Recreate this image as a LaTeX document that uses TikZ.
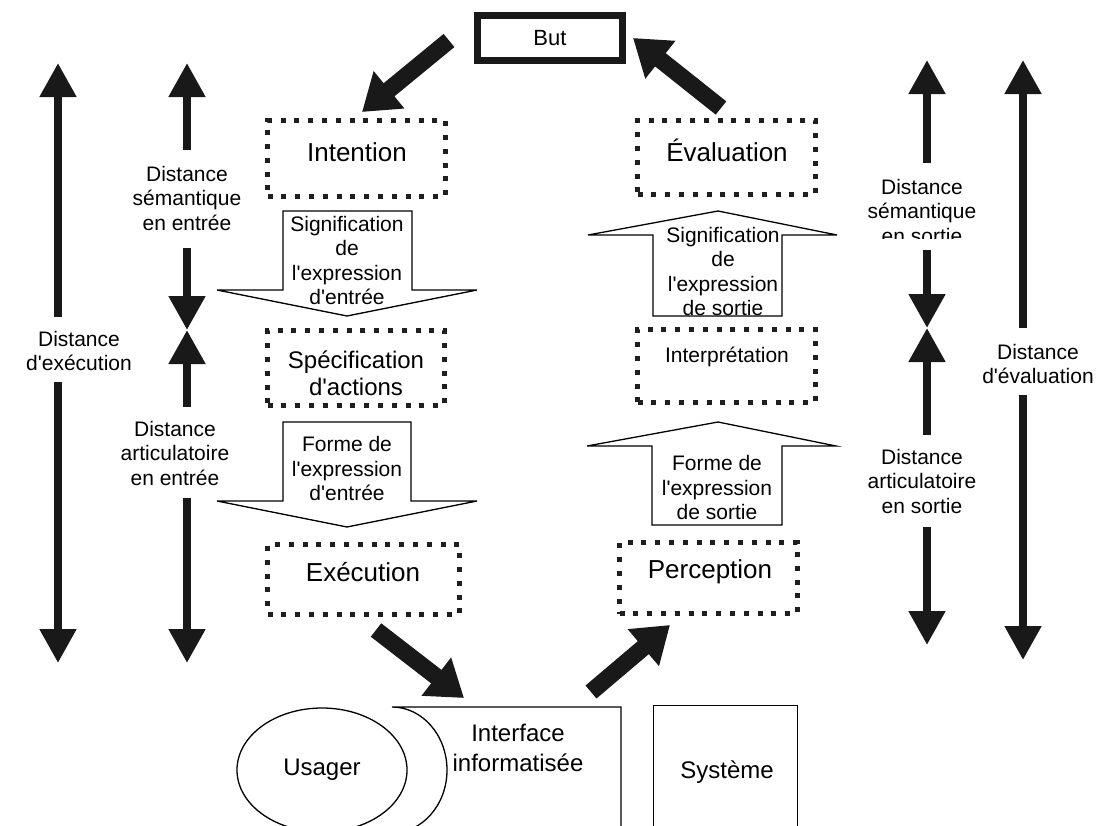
\documentclass[tikz,border=0pt]{standalone}
\usepackage{fontspec}
\setmainfont{Liberation Sans}[Ligatures=TeXOff]
\usetikzlibrary{arrows.meta,shapes.geometric}
\begin{document}
\begin{tikzpicture}[x=1pt,y=-1pt,
  dotbox/.style={draw=black!88, line width=5pt, dash pattern=on 5pt off 8.8pt, inner sep=0pt},
  bigarrow/.style={draw=black!90, line width=17pt, -{Triangle[width=46pt,length=35pt]}},
  distarrow/.style={draw=black!90, line width=8pt, -{Triangle[width=35pt,length=34pt]}},
  blockarrow/.style={draw=black, line width=1.3pt, fill=white, line join=miter},
  thinline/.style={draw=black, line width=1.3pt},
  lblbig/.style={inner sep=0pt, font=\fontsize{26}{30}\selectfont},
  lblmid/.style={inner sep=0pt, align=center, font=\fontsize{24}{27}\selectfont},
  lblsmall/.style={inner sep=0pt, align=center, font=\fontsize{21}{24.5}\selectfont}
]
\useasboundingbox (0,0) rectangle (1100,825);
\clip (0,0) rectangle (1100,825);

% ---- But
\node[draw=black!90, line width=7pt, minimum width=145pt, minimum height=45pt, inner sep=0pt,
      font=\fontsize{22}{26}\selectfont] (but) at (550,38) {But};

% ---- dotted boxes
\node[dotbox, minimum width=178pt, minimum height=76pt] (intention) at (356.5,158.5) {};
\node[lblbig] (intentionlbl) at (357,152) {Intention};
\node[dotbox, minimum width=178pt, minimum height=74pt] (evaluation) at (726.5,157.5) {};
\node[lblbig] (evaluationlbl) at (727,150) {Évaluation};
\node[dotbox, minimum width=177pt, minimum height=75pt] (specif) at (356,368) {};
\node[lblmid] (speciflbl) at (356,373.5) {Spécification\\d'actions};
\node[dotbox, minimum width=178pt, minimum height=73pt] (interp) at (726.5,366) {};
\node[lblsmall] (interplbl) at (727,357) {Interprétation};
\node[dotbox, minimum width=192pt, minimum height=70pt] (execution) at (363.5,579.5) {};
\node[lblbig] (executionlbl) at (363,572) {Exécution};
\node[dotbox, minimum width=178pt, minimum height=71pt] (perception) at (708.5,578) {};
\node[lblbig] (perceptionlbl) at (710,572) {Perception};

% ---- block arrows (left, downward)
\draw[blockarrow] (283,211) -- (412,211) -- (412,290) -- (477,290) -- (347,316) -- (217,290) -- (283,290) -- cycle;
\node[lblsmall] (sigin) at (347,260.5) {Signification\\de\\l'expression\\d'entrée};
\draw[blockarrow] (283,422) -- (411,422) -- (411,501) -- (477,501) -- (347,527) -- (217,501) -- (283,501) -- cycle;
\node[lblsmall] (formin) at (347,468.5) {Forme de\\l'expression\\d'entrée};

% ---- block arrows (right, upward)
\draw[blockarrow] (653,316) -- (782,316) -- (782,235) -- (837,235) -- (718,211) -- (588,235) -- (653,235) -- cycle;
\begin{scope}
  \clip (600,200) rectangle (840,316);
  \node[lblsmall] (sigout) at (723,271.5) {Signification\\de\\l'expression\\de sortie};
\end{scope}
\draw[blockarrow] (652,525) -- (782,525) -- (782,446) -- (836,446) -- (718,422) -- (587,446) -- (652,446) -- cycle;
\node[lblsmall] (formout) at (717,487.5) {Forme de\\l'expression\\de sortie};

% ---- big black arrows
\coordinate (a1t) at (449,40.5);  \coordinate (a1h) at (362,112);
\coordinate (a2t) at (721,108);   \coordinate (a2h) at (633,38);
\coordinate (a3t) at (376,630);   \coordinate (a3h) at (464,698);
\coordinate (a4t) at (591,692);   \coordinate (a4h) at (670,625);
\draw[bigarrow] (a1t) -- (a1h);
\draw[bigarrow] (a2t) -- (a2h);
\draw[bigarrow] (a3t) -- (a3h);
\draw[bigarrow] (a4t) -- (a4h);

% ---- distance labels
\node[lblsmall] (dexec) at (79,351) {Distance\\d'exécution};
\node[lblsmall] (dsemin) at (187,198) {Distance\\sémantique\\en entrée};
\node[lblsmall] (dartin) at (175,453) {Distance\\articulatoire\\en entrée};
\begin{scope}
  \clip (850,160) rectangle (1000,238);
  \node[lblsmall] (dsemout) at (922,211) {Distance\\sémantique\\en sortie};
\end{scope}
\node[lblsmall] (dartout) at (922,481) {Distance\\articulatoire\\en sortie};
\node[lblsmall] (deval) at (1038,364) {Distance\\d'évaluation};

% ---- distance arrows, left
\coordinate (l1a) at (58,317);  \coordinate (l1b) at (58,63);
\coordinate (l2a) at (58,382);  \coordinate (l2b) at (58,663);
\draw[distarrow] (l1a) -- (l1b);
\draw[distarrow] (l2a) -- (l2b);
\coordinate (m1a) at (187,150); \coordinate (m1b) at (187,63);
\coordinate (m2a) at (187,248); \coordinate (m2b) at (187,330);
\coordinate (m3a) at (187,407); \coordinate (m3b) at (187,330);
\coordinate (m4a) at (187,498); \coordinate (m4b) at (187,663);
\draw[distarrow] (m1a) -- (m1b);
\draw[distarrow] (m2a) -- (m2b);
\draw[distarrow] (m3a) -- (m3b);
\draw[distarrow] (m4a) -- (m4b);

% ---- distance arrows, right
\coordinate (r1a) at (927,163); \coordinate (r1b) at (927,60);
\coordinate (r2a) at (927,250); \coordinate (r2b) at (927,328);
\coordinate (r3a) at (927,435); \coordinate (r3b) at (927,328);
\coordinate (r4a) at (927,527); \coordinate (r4b) at (927,645);
\draw[distarrow] (r1a) -- (r1b);
\draw[distarrow] (r2a) -- (r2b);
\draw[distarrow] (r3a) -- (r3b);
\draw[distarrow] (r4a) -- (r4b);
\coordinate (s1a) at (1023,328); \coordinate (s1b) at (1023,60);
\coordinate (s2a) at (1023,395); \coordinate (s2b) at (1023,660);
\draw[distarrow] (s1a) -- (s1b);
\draw[distarrow] (s2a) -- (s2b);

% ---- bottom: user, interface, system
\node[thinline, ellipse, minimum width=170pt, minimum height=124pt, inner sep=0pt,
      font=\fontsize{24}{28}\selectfont] (usager) at (322,770) {Usager};
\draw[thinline] (621,840) -- (621,707) -- (392,707)
   .. controls (422,707) and (447,735) .. (447,770)
   .. controls (447,805) and (422,833) .. (392,833);
\node[inner sep=0pt, align=center, font=\fontsize{24}{30}\selectfont] (interface) at (518,748) {Interface\\informatisée};
\node[thinline, minimum width=144pt, minimum height=140pt, anchor=north, inner sep=0pt] (systeme) at (725.5,704.7) {};
\node[inner sep=0pt, font=\fontsize{24}{28}\selectfont] (systemelbl) at (727,772) {Système};
\end{tikzpicture}
\end{document}
